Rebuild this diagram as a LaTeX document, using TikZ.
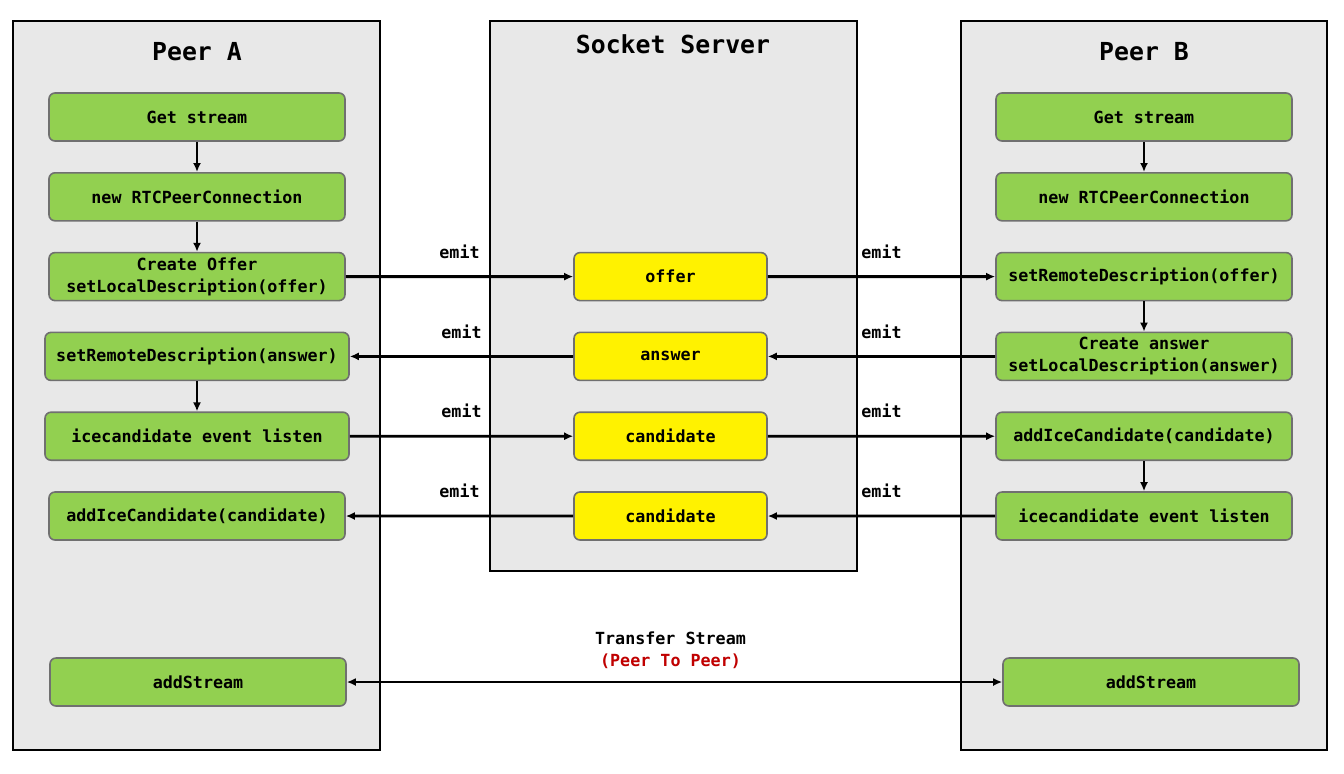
\documentclass[tikz,border=0pt]{standalone}
\usepackage{fontspec}
\setmonofont{DejaVu Sans Mono}
\usetikzlibrary{positioning, arrows.meta}

\definecolor{panelgray}{HTML}{E8E8E8}
\definecolor{stepgreen}{HTML}{92D050}
\definecolor{boxborder}{HTML}{707070}
\definecolor{ptpred}{HTML}{C00000}

\begin{document}
\begin{tikzpicture}[
    x=0.5pt, y=-0.5pt,
    >={Latex[length=4.5pt,width=4pt]},
    node distance=15.1pt,
    every node/.style={font=\ttfamily\bfseries\fontsize{8.35}{11}\selectfont, align=center},
    panel/.style={draw, line width=1pt, fill=panelgray},
    title/.style={font=\ttfamily\bfseries\fontsize{12.4}{14}\selectfont},
    box/.style={
        draw=boxborder, line width=0.8pt, rounded corners=3pt, fill=stepgreen,
        minimum width=148pt, minimum height=24pt, inner ysep=1pt
    },
    wide/.style={box, minimum width=152pt},
    msg/.style={box, fill=yellow, minimum width=96.5pt},
    emitlabel/.style={midway, above=5pt},
    conn/.style={->, line width=1.4pt}
]

\fill[white] (0,0) rectangle (1344,773);
\path[use as bounding box] (0,0) rectangle (1344,773);

% --- Panels ---
\draw[panel] (13,21) rectangle (380,750);
\draw[panel] (490,21) rectangle (857,571);
\draw[panel] (961,21) rectangle (1327,750);

\node[title] (titleA) at (197,52) {Peer A};
\node[title] (titleS) at (673,44) {Socket Server};
\node[title] (titleB) at (1144,52) {Peer B};

% --- Peer A column ---
\node[box] (getA) at (197,117) {Get stream};
\node[box, below=of getA] (rtcA) {new RTCPeerConnection};
\node[box, below=of rtcA] (offerA) {Create Offer\\setLocalDescription(offer)};
\node[wide, below=of offerA] (remoteA) {setRemoteDescription(answer)};
\node[wide, below=of remoteA] (iceA) {icecandidate event listen};
\node[box, below=of iceA] (addiceA) {addIceCandidate(candidate)};
\node[box] (streamA) at (198,682) {addStream};

% --- Socket Server column ---
\node[msg] (offerS) at (670.5,276.6) {offer};
\node[msg, below=of offerS] (answerS) {answer};
\node[msg, below=of answerS] (candS) {candidate};
\node[msg, below=of candS] (candbackS) {candidate};

% --- Peer B column ---
\node[box] (getB) at (1144,117) {Get stream};
\node[box, below=of getB] (rtcB) {new RTCPeerConnection};
\node[box, below=of rtcB] (remoteB) {setRemoteDescription(offer)};
\node[box, below=of remoteB] (answerB) {Create answer\\setLocalDescription(answer)};
\node[box, below=of answerB] (addiceB) {addIceCandidate(candidate)};
\node[box, below=of addiceB] (iceB) {icecandidate event listen};
\node[box] (streamB) at (1151,682) {addStream};

% --- Steps inside each peer ---
\draw[conn] (getA) -- (rtcA);
\draw[conn] (rtcA) -- (offerA);
\draw[conn] (remoteA) -- (iceA);
\draw[conn] (getB) -- (rtcB);
\draw[conn] (remoteB) -- (answerB);
\draw[conn] (addiceB) -- (iceB);

% --- Signalling through the server ---
\draw[conn] (offerA) -- node[emitlabel]{emit} (offerS);
\draw[conn] (offerS) -- node[emitlabel]{emit} (remoteB);
\draw[conn] (answerB) -- node[emitlabel]{emit} (answerS);
\draw[conn] (answerS) -- node[emitlabel]{emit} (remoteA);
\draw[conn] (iceA) -- node[emitlabel]{emit} (candS);
\draw[conn] (candS) -- node[emitlabel]{emit} (addiceB);
\draw[conn] (iceB) -- node[emitlabel]{emit} (candbackS);
\draw[conn] (candbackS) -- node[emitlabel]{emit} (addiceA);

% Direct stream between the peers
\draw[conn, <->] (streamA) -- node[midway, above=2.5pt, xshift=-2pt]
    {Transfer Stream\\\textcolor{ptpred}{(Peer To Peer)}} (streamB);

\end{tikzpicture}
\end{document}
